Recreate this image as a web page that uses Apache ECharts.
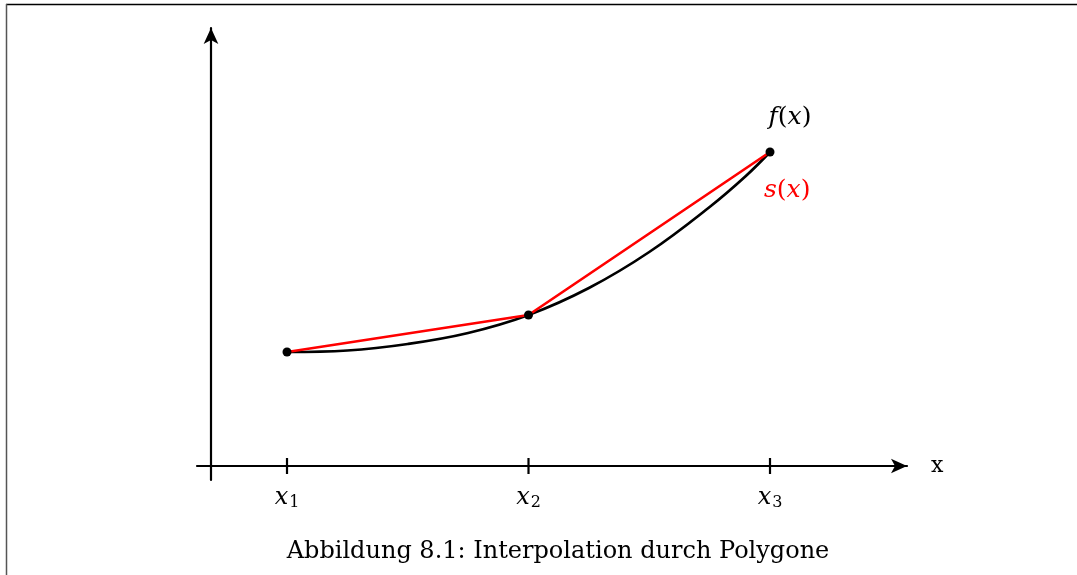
<!DOCTYPE html>
<html>
<head>
<meta charset="utf-8">
<script src="https://cdn.jsdelivr.net/npm/echarts@6/dist/echarts.min.js"></script>
<style>html,body{margin:0;padding:0;background:#fff;}#c{width:1077px;height:575px;}</style>
</head>
<body>
<div id="c"></div>
<script>
// Node positions (x1, x2, x3) and node values
const nodeX = [1, 2, 3];
const nodeLabels = ['1', '2', '3'];
const nodeY = [1.14, 1.51, 3.14];
// f(x)
const fX = [1.0, 1.25, 1.5, 1.75, 2.0, 2.25, 2.5, 2.75, 2.9, 3.0];
const fY = [1.14, 1.155, 1.22, 1.33, 1.51, 1.78, 2.14, 2.59, 2.90, 3.14];
const caption = 'Abbildung 8.1: Interpolation durch Polygone';

const serif = '"DejaVu Serif", "Liberation Serif", serif';
const chart = echarts.init(document.getElementById('c'));
const fData = fX.map((x, i) => [x, fY[i]]);
const sData = nodeX.map((x, i) => [x, nodeY[i]]);
const tickData = nodeX.map(x => [x, 0]);

chart.setOption({
  animation: false,
  grid: { left: 197, right: 170, top: 28, bottom: 95 },
  xAxis: {
    type: 'value', min: 0.6273, max: 3.5673,
    splitLine: { show: false },
    axisLine: { onZero: true, lineStyle: { color: '#000', width: 2.2 }, symbol: ['none', 'arrow'], symbolSize: [11, 16] },
    axisTick: { show: false },
    axisLabel: {
      customValues: nodeX, margin: 4, color: '#000',
      formatter: v => '{i|x}{s|' + nodeLabels[nodeX.indexOf(v)] + '}',
      rich: {
        i: { fontFamily: serif, fontStyle: 'italic', fontSize: 24, color: '#000' },
        s: { fontFamily: serif, fontSize: 16, color: '#000', padding: [11, 0, 0, 1] }
      }
    },
    name: 'x', nameLocation: 'end', nameGap: 24,
    nameTextStyle: { fontFamily: serif, fontSize: 22, color: '#000', verticalAlign: 'middle', padding: [3, 0, 0, 0] }
  },
  yAxis: {
    type: 'value', min: -0.14, max: 4.38, offset: -14,
    splitLine: { show: false },
    axisLine: { onZero: false, lineStyle: { color: '#000', width: 2.2 }, symbol: ['none', 'arrow'], symbolSize: [11, 16] },
    axisTick: { show: false },
    axisLabel: { show: false }
  },
  graphic: [
    { type: 'line', shape: { x1: 6, y1: 4.5, x2: 1077, y2: 4.5 }, style: { stroke: '#000', lineWidth: 1.3 } },
    { type: 'line', shape: { x1: 6.5, y1: 4, x2: 6.5, y2: 575 }, style: { stroke: '#555', lineWidth: 1.5 } },
    { type: 'text', x: 558, y: 552, style: { text: caption, font: '24px ' + serif, fill: '#000', textAlign: 'center', textVerticalAlign: 'middle' } }
  ],
  series: [
    {
      type: 'scatter', data: tickData, symbol: 'rect', symbolSize: [2.2, 16],
      itemStyle: { color: '#000', opacity: 1 }, z: 3, silent: true
    },
    {
      type: 'line', data: fData, smooth: 0.4, showSymbol: false,
      lineStyle: { color: '#000', width: 2.7 }, z: 4, silent: true
    },
    {
      type: 'line', data: sData, showSymbol: false,
      lineStyle: { color: '#ff0000', width: 2.7 }, z: 5, silent: true,
      endLabel: {
        show: true, distance: 0, offset: [-6, 38],
        formatter: '{i|s}{r|(}{i|x}{r|)}',
        rich: {
          i: { fontFamily: serif, fontStyle: 'italic', fontSize: 25, color: '#ff0000' },
          r: { fontFamily: serif, fontSize: 25, color: '#ff0000' }
        }
      }
    },
    {
      type: 'scatter', data: sData, symbol: 'circle', symbolSize: 9,
      itemStyle: { color: '#000', opacity: 1 }, z: 6, silent: true,
      label: {
        show: true, position: 'top', distance: 0, offset: [20, -18], color: '#000',
        formatter: p => p.dataIndex === 2 ? '{i|f}{r|(}{i|x}{r|)}' : '',
        rich: {
          i: { fontFamily: serif, fontStyle: 'italic', fontSize: 25, color: '#000' },
          r: { fontFamily: serif, fontSize: 25, color: '#000' }
        }
      }
    }
  ]
});
</script>
</body>
</html>
